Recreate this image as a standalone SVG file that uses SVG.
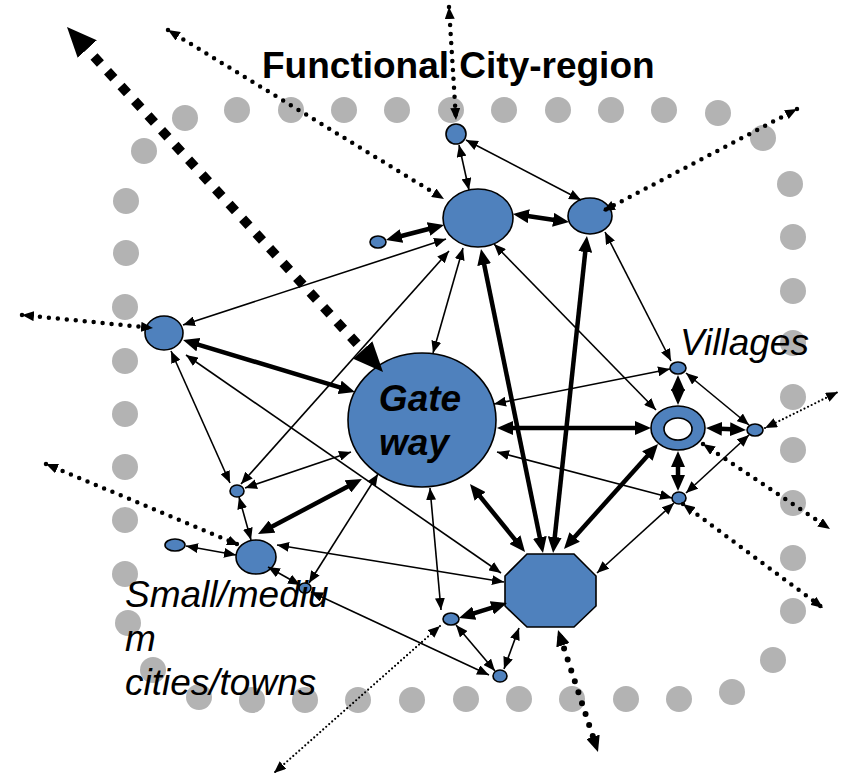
<svg xmlns="http://www.w3.org/2000/svg" width="841" height="776" viewBox="0 0 841 776">
<style>
.dot{fill:#b3b3b3}
.nd{fill:#4f81bd;stroke:#000;stroke-width:1.6}
.hole{fill:#fff;stroke:#000;stroke-width:1.6}
.t{stroke:#000;stroke-width:1.6;fill:none;marker-start:url(#a);marker-end:url(#a)}
.k{stroke:#000;stroke-width:4.5;fill:none;marker-start:url(#A);marker-end:url(#A)}
.d{stroke:#000;stroke-width:4.5;fill:none;stroke-linecap:round;stroke-dasharray:0 9;marker-start:url(#a);marker-end:url(#a)}
.df{stroke:#000;stroke-width:2.2;fill:none;stroke-linecap:round;stroke-dasharray:0 4;marker-start:url(#a);marker-end:url(#a)}
.db{stroke:#000;stroke-width:6;fill:none;stroke-linecap:round;stroke-dasharray:0 11.5;marker-start:url(#A);marker-end:url(#A)}
.sq{stroke:#000;stroke-width:9.5;fill:none;stroke-dasharray:9.5 10.5;marker-start:url(#B);marker-end:url(#B)}
.lab{font-family:"Liberation Sans",Arial,sans-serif;font-size:37px;fill:#000}
</style>
<defs>
<marker id="a" viewBox="0 0 12 10" refX="12" refY="5" markerWidth="12" markerHeight="10" markerUnits="userSpaceOnUse" orient="auto-start-reverse"><path d="M0,0L12,5L0,10z"/></marker>
<marker id="A" viewBox="0 0 16 14" refX="8" refY="7" markerWidth="16" markerHeight="14" markerUnits="userSpaceOnUse" orient="auto-start-reverse"><path d="M0,0L16,7L0,14z"/></marker>
<marker id="B" viewBox="0 0 30 26" refX="10" refY="13" markerWidth="30" markerHeight="26" markerUnits="userSpaceOnUse" orient="auto-start-reverse"><path d="M0,0L30,13L0,26z"/></marker>
</defs>
<rect width="841" height="776" fill="#fff"/>
<g id="boundary">
<circle class="dot" cx="185" cy="118" r="13"/><circle class="dot" cx="237" cy="110" r="13"/><circle class="dot" cx="291" cy="110" r="13"/><circle class="dot" cx="344" cy="110" r="13"/><circle class="dot" cx="397" cy="110" r="13"/><circle class="dot" cx="451" cy="110" r="13"/><circle class="dot" cx="504" cy="110" r="13"/><circle class="dot" cx="558" cy="110" r="13"/><circle class="dot" cx="611" cy="110" r="13"/><circle class="dot" cx="664" cy="110" r="13"/><circle class="dot" cx="718" cy="113" r="13"/><circle class="dot" cx="763" cy="138" r="13"/><circle class="dot" cx="790" cy="184" r="13"/><circle class="dot" cx="793" cy="237" r="13"/>
<circle class="dot" cx="793" cy="291" r="13"/><circle class="dot" cx="793" cy="343" r="13"/><circle class="dot" cx="793" cy="397" r="13"/><circle class="dot" cx="793" cy="450" r="13"/><circle class="dot" cx="793" cy="503" r="13"/><circle class="dot" cx="793" cy="558" r="13"/><circle class="dot" cx="793" cy="611" r="13"/><circle class="dot" cx="773" cy="660" r="13"/><circle class="dot" cx="732" cy="692" r="13"/>
<circle class="dot" cx="679" cy="699" r="13"/><circle class="dot" cx="626" cy="699" r="13"/><circle class="dot" cx="572" cy="699" r="13"/><circle class="dot" cx="519" cy="699" r="13"/><circle class="dot" cx="466" cy="699" r="13"/><circle class="dot" cx="412" cy="700" r="13"/><circle class="dot" cx="358" cy="700" r="13"/><circle class="dot" cx="305" cy="700" r="13"/><circle class="dot" cx="252" cy="700" r="13"/><circle class="dot" cx="199" cy="697" r="13"/><circle class="dot" cx="153" cy="670" r="13"/><circle class="dot" cx="128" cy="623" r="13"/>
<circle class="dot" cx="125" cy="574" r="13"/><circle class="dot" cx="125" cy="520" r="13"/><circle class="dot" cx="125" cy="467" r="13"/><circle class="dot" cx="125" cy="414" r="13"/><circle class="dot" cx="125" cy="361" r="13"/><circle class="dot" cx="125" cy="307" r="13"/><circle class="dot" cx="126" cy="253" r="13"/><circle class="dot" cx="126" cy="201" r="13"/><circle class="dot" cx="144" cy="151" r="13"/>
</g>
<g id="gateway"><ellipse class="nd" cx="422" cy="420" rx="74" ry="67"/>
<text class="lab" x="420" y="411" text-anchor="middle" font-weight="bold" font-style="italic" font-size="36">Gate</text>
<text class="lab" x="414" y="455" text-anchor="middle" font-weight="bold" font-style="italic" font-size="36">way</text></g>
<g id="n1"><ellipse class="nd" cx="478" cy="218" rx="35" ry="29"/></g>
<g id="n2"><ellipse class="nd" cx="590" cy="216" rx="22" ry="18"/></g>
<g id="n3"><ellipse class="nd" cx="456" cy="134" rx="10" ry="10"/></g>
<g id="n4"><ellipse class="nd" cx="378" cy="242" rx="8" ry="6"/></g>
<g id="n5"><ellipse class="nd" cx="164" cy="333" rx="19" ry="17"/></g>
<g id="n6"><ellipse class="nd" cx="237" cy="491" rx="7" ry="6"/></g>
<g id="n7"><ellipse class="nd" cx="256" cy="557" rx="20" ry="17"/></g>
<g id="n8"><ellipse class="nd" cx="175" cy="545" rx="10" ry="6"/></g>
<g id="n9"><ellipse class="nd" cx="305" cy="588" rx="6" ry="5"/></g>
<g id="octagon"><polygon class="nd" points="527,554 574,554 596,576 596,606 574,627 527,627 505,606 505,576"/></g>
<g id="n10"><ellipse class="nd" cx="451" cy="619" rx="8" ry="6"/></g>
<g id="n11"><ellipse class="nd" cx="500" cy="676" rx="7" ry="6"/></g>
<g id="village-top"><ellipse class="nd" cx="678" cy="368" rx="8" ry="6"/></g>
<g id="ring"><ellipse class="nd" cx="678" cy="428" rx="27" ry="22"/><ellipse class="hole" cx="678" cy="429" rx="14" ry="11"/></g>
<g id="village-right"><ellipse class="nd" cx="755" cy="430" rx="8" ry="6"/></g>
<g id="village-bottom"><ellipse class="nd" cx="679" cy="498" rx="7" ry="6"/></g>
<g id="connectors">
<path class="sq" d="M80.5,41.7L369.5,357.3"/>
<path class="d" d="M168,30L444,199"/>
<path class="d" d="M449,7L456,120"/>
<path class="d" d="M797,109L603,211"/>
<path class="d" d="M22,315L153,328"/>
<path class="d" d="M46,464L239,545"/>
<path class="d" d="M703,444L830,529"/>
<path class="d" d="M683,504L823,608"/>
<path class="df" d="M765,428L838,392"/>
<path class="df" d="M440,626L274,773"/>
<path class="db" d="M560.5,637.6L595.5,744.4"/>
<path class="t" d="M459,145L469,190"/>
<path class="t" d="M466,140L581,200"/>
<path class="t" d="M183,325L446,239"/>
<path class="t" d="M241,484L449,251"/>
<path class="t" d="M463,248L433,353"/>
<path class="t" d="M494,244L656,410"/>
<path class="t" d="M605,232L671,361"/>
<path class="t" d="M171,351L230,483"/>
<path class="t" d="M186,355L501,573"/>
<path class="t" d="M245,488L351,452"/>
<path class="t" d="M239,497L251,540"/>
<path class="t" d="M186,546L236,555"/>
<path class="t" d="M268,567L300,585"/>
<path class="t" d="M277,545L504,582"/>
<path class="t" d="M378,474L309,583"/>
<path class="t" d="M311,592L489,675"/>
<path class="t" d="M430,488L441,610"/>
<path class="t" d="M494,404L670,369"/>
<path class="t" d="M497,452L672,498"/>
<path class="t" d="M519,628L504,669"/>
<path class="t" d="M456,625L495,671"/>
<path class="t" d="M674,503L597,573"/>
<path class="t" d="M686,373L749,425"/>
<path class="t" d="M686,493L749,435"/>
<path class="k" d="M520.9,215.1L561.1,220.9"/>
<path class="k" d="M393.7,238L436.3,227"/>
<path class="k" d="M482.6,256.8L541.4,545.2"/>
<path class="k" d="M586.1,244L553.9,545"/>
<path class="k" d="M190.7,342.3L347.3,389.7"/>
<path class="k" d="M265.1,530.3L354.9,482.7"/>
<path class="k" d="M475,490.2L520,545.8"/>
<path class="k" d="M505,428L643,428"/>
<path class="k" d="M569.3,543L652.7,450"/>
<path class="k" d="M499.4,605.4L466.6,615.6"/>
<path class="k" d="M678,383L678,397"/>
<path class="k" d="M678,459L678,483"/>
<path class="k" d="M714,428.4L738,429.6"/>
</g>
<g id="labels">
<text class="lab" x="262" y="78" font-weight="bold" font-size="38">Functional City-region</text>
<text class="lab" x="680" y="355" font-style="italic">Villages</text>
<text class="lab" x="125" y="607" font-style="italic">Small/mediu</text>
<text class="lab" x="125" y="651" font-style="italic">m</text>
<text class="lab" x="125" y="695" font-style="italic">cities/towns</text>
</g>
</svg>
